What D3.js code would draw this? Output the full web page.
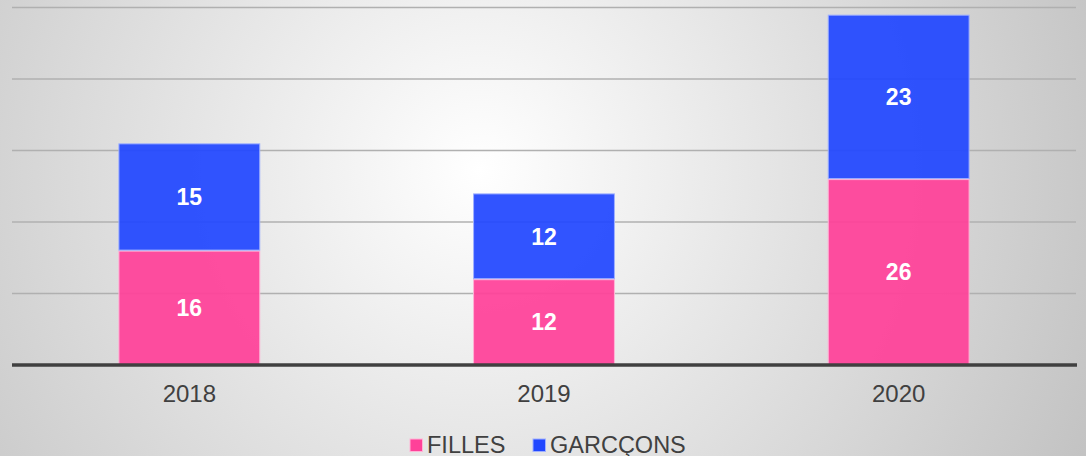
<!DOCTYPE html>
<html>
<head>
<meta charset="utf-8">
<script src="https://cdn.jsdelivr.net/npm/d3@7"></script>
<style>
  html, body { margin: 0; padding: 0; }
  body { width: 1086px; height: 456px; overflow: hidden; }
</style>
</head>
<body>
<div class="graphic"></div>
<script>
// data
var years = ["2018", "2019", "2020"];
var filles = [16, 12, 26];
var garcons = [15, 12, 23];
var seriesNames = ["FILLES", "GARCÇONS"];
var yTicks = [0, 10, 20, 30, 40, 50];

var W = 1086, H = 456;
var colors = { FILLES: "#ff4199", "GARCÇONS": "#2147ff" };
var strokes = { FILLES: "#ffb3d6", "GARCÇONS": "#9fb0ff" };

var svg = d3.select(".graphic").append("svg")
    .attr("width", W)
    .attr("height", H);

// background radial gradient
var defs = svg.append("defs");
var grad = defs.append("radialGradient")
    .attr("id", "bg")
    .attr("gradientUnits", "userSpaceOnUse")
    .attr("cx", 480).attr("cy", 170).attr("r", 700);
grad.append("stop").attr("offset", "0%").attr("stop-color", "#ffffff");
grad.append("stop").attr("offset", "100%").attr("stop-color", "#c0c0c0");
svg.append("rect").attr("width", W).attr("height", H).attr("fill", "url(#bg)");

// scales
var x = d3.scaleBand()
    .domain(years)
    .range([12, 1076])
    .paddingInner(0.6)
    .paddingOuter(0.3);
var y = d3.scaleLinear()
    .domain([0, 50])
    .range([365, 7.5]);

// gridlines
svg.append("g").selectAll("line")
    .data(yTicks.slice(1))
    .enter().append("line")
    .attr("x1", 12).attr("x2", 1076)
    .attr("y1", function(d) { return y(d); })
    .attr("y2", function(d) { return y(d); })
    .attr("stroke", "#b0b0b0")
    .attr("stroke-width", 1.3);

// stacked data
var table = years.map(function(yr, i) {
  return { year: yr, FILLES: filles[i], "GARCÇONS": garcons[i] };
});
var stacked = d3.stack().keys(seriesNames)(table);

var layers = svg.append("g").selectAll("g")
    .data(stacked)
    .enter().append("g");

layers.selectAll("rect")
    .data(function(s) { return s.map(function(d) { d.key = s.key; return d; }); })
    .enter().append("rect")
    .attr("x", function(d) { return x(d.data.year) + 0.5; })
    .attr("width", x.bandwidth() - 1)
    .attr("y", function(d) { return y(d[1]) + 0.5; })
    .attr("height", function(d) { return y(d[0]) - y(d[1]) - 1; })
    .attr("fill", function(d) { return colors[d.key]; })
    .attr("fill-opacity", 0.93)
    .attr("stroke", function(d) { return strokes[d.key]; })
    .attr("stroke-width", 1);

layers.selectAll("text")
    .data(function(s) { return s; })
    .enter().append("text")
    .attr("x", function(d) { return x(d.data.year) + x.bandwidth() / 2; })
    .attr("y", function(d) { return (y(d[0]) + y(d[1])) / 2; })
    .attr("dy", "0.36em")
    .attr("text-anchor", "middle")
    .attr("fill", "#ffffff")
    .attr("font-family", "Liberation Sans, Arial, sans-serif")
    .attr("font-weight", "bold")
    .attr("font-size", 23)
    .text(function(d) { return d[1] - d[0]; });

// baseline
svg.append("line")
    .attr("x1", 12).attr("x2", 1077)
    .attr("y1", y(0)).attr("y2", y(0))
    .attr("stroke", "#404040")
    .attr("stroke-width", 3.5);

// x labels
svg.append("g").selectAll("text")
    .data(years)
    .enter().append("text")
    .attr("x", function(d) { return x(d) + x.bandwidth() / 2; })
    .attr("y", 402)
    .attr("text-anchor", "middle")
    .attr("fill", "#404040")
    .attr("font-family", "Liberation Sans, Arial, sans-serif")
    .attr("font-size", 24)
    .text(function(d) { return d; });

// legend
var legendX = [410, 533];
var legend = svg.append("g").selectAll("g")
    .data(seriesNames)
    .enter().append("g")
    .attr("transform", function(d, i) { return "translate(" + legendX[i] + ",439)"; });
legend.append("rect")
    .attr("width", 12.5).attr("height", 12.5)
    .attr("fill", function(d) { return colors[d]; })
    .attr("stroke", function(d) { return strokes[d]; })
    .attr("stroke-width", 1);
legend.append("text")
    .attr("x", 17)
    .attr("y", 14)
    .attr("fill", "#404040")
    .attr("font-family", "Liberation Sans, Arial, sans-serif")
    .attr("font-size", 23.5)
    .text(function(d) { return d; });
</script>
</body>
</html>
